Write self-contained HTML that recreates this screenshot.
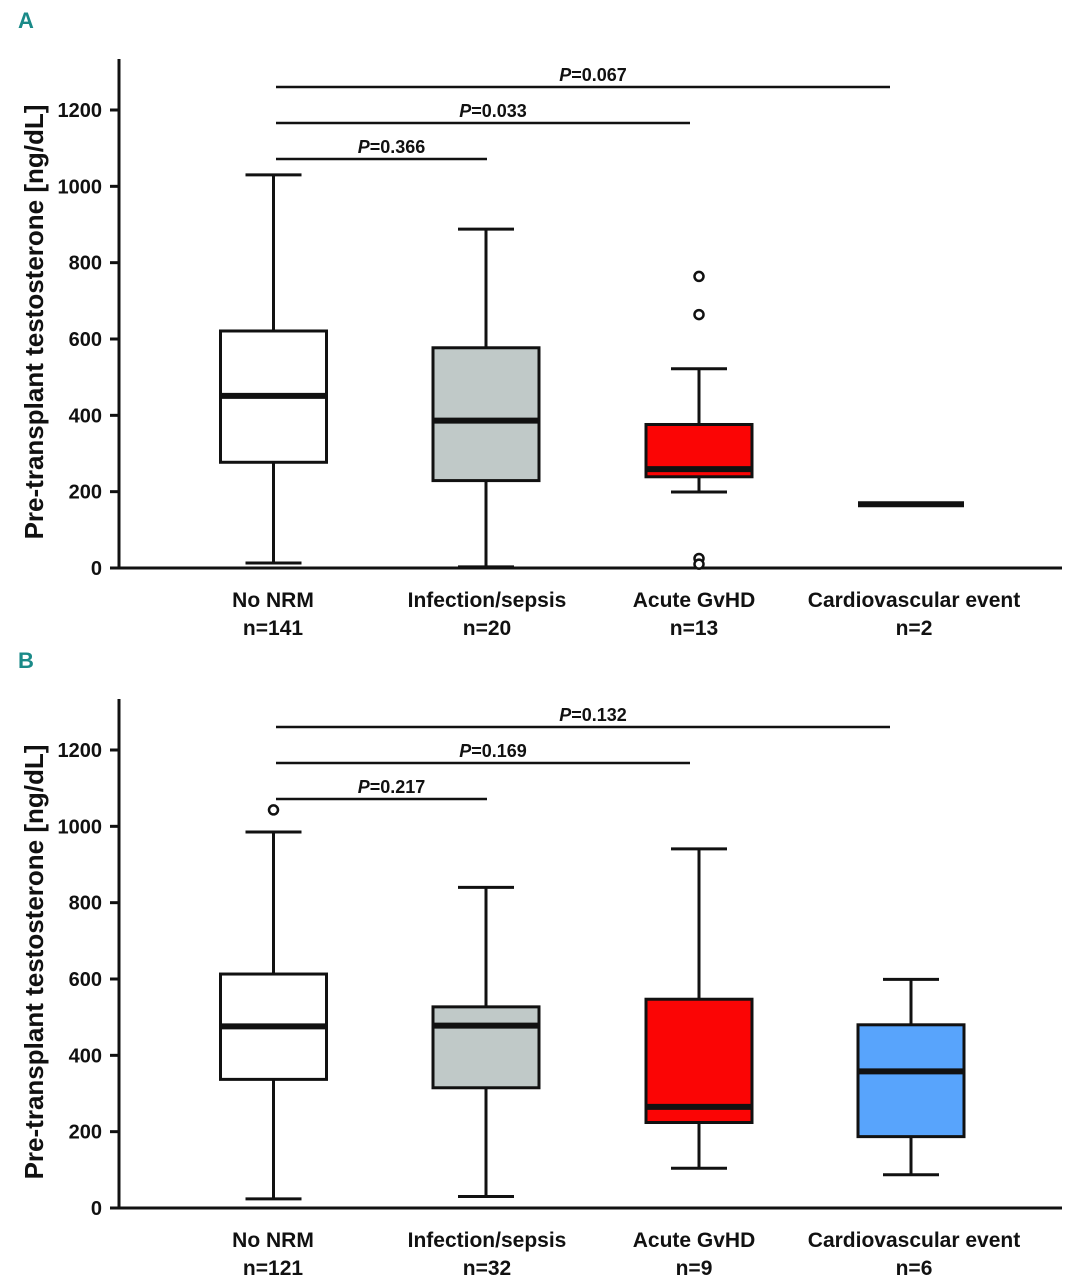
<!DOCTYPE html>
<html><head><meta charset="utf-8"><style>
html,body{margin:0;padding:0;background:#fff;}
svg{display:block;font-family:"Liberation Sans",Arial,sans-serif;}
</style></head><body>
<svg id="chart" width="1074" height="1280" viewBox="0 0 1074 1280" xmlns="http://www.w3.org/2000/svg"></svg>
<script>
const categories = ["No NRM","Infection/sepsis","Acute GvHD","Cardiovascular event"];
const nA = ["n=141","n=20","n=13","n=2"];
const nB = ["n=121","n=32","n=9","n=6"];
const fills = ["#ffffff","#c0c9c8","#fb0505","#58a4fc"];
const yTicks = [0,200,400,600,800,1000,1200];
// [whiskerLow, Q1, median, Q3, whiskerHigh]
const boxesA = [[13,277,451,621,1030],[3,229,386,577,888],[199,239,259,376,522],[167,167,167,167,167]];
const outliersA = [[],[],[764,664,25,10],[]];
const boxesB = [[24,337,476,613,985],[30,315,478,527,840],[104,224,265,547,941],[87,187,358,480,599]];
const outliersB = [[1043],[],[],[]];
const pTargetsA = [1,2,3]; const pValuesA = ["0.366","0.033","0.067"];
const pTargetsB = [1,2,3]; const pValuesB = ["0.217","0.169","0.132"];

const svg = document.getElementById('chart');
const NS = 'http://www.w3.org/2000/svg';
function mk(tag, attrs, parent){ const e=document.createElementNS(NS,tag); for(const k in attrs) e.setAttribute(k,attrs[k]); (parent||svg).appendChild(e); return e; }
const xCenters = [273.5,486,699,911];
const labelCenters = [273,487,694,914];
const barEndOffsets = [0,1,-9,-21];

function panel(letter, y0, boxes, outs, ns, pT, pV, nameP){
  const yScale = v => y0 - v*(458/1200);
  const xScale = i => xCenters[i];
  const g = mk('g',{});
  
  
  const L = mk('text',{x:18,y:y0-540,'font-size':22,'font-weight':'bold',fill:'#1a8a88','font-family':'"Liberation Sans Narrow","Liberation Sans",sans-serif'},g);
  L.textContent = letter;
  
  
  const yax = mk('line',{x1:119,y1:y0-509,x2:119,y2:y0+1,stroke:'#111','stroke-width':3},g);
  
  
  const xax = mk('line',{x1:110,y1:y0,x2:1062,y2:y0,stroke:'#111','stroke-width':3},g);
  
  
  yTicks.forEach(t=>{
    const y=yScale(t);
    const tk = mk('line',{x1:110,y1:y,x2:119,y2:y,stroke:'#111','stroke-width':3},g);
    
    
    const tl = mk('text',{x:102,y:y+7,'font-size':20,'font-weight':'bold','text-anchor':'end',fill:'#111'},g);
    tl.textContent = t;
    
    
  });
  const yt = mk('text',{x:0,y:0,'font-size':26,'font-weight':'bold','text-anchor':'middle',fill:'#111',transform:`translate(43,${y0-246}) rotate(-90)`},g);
  yt.textContent = 'Pre-transplant testosterone [ng/dL]';
  
  
  boxes.forEach((b,i)=>{
    const cx = xScale(i);
    const bg = mk('g',{},g);
    
    
    const [lo,q1,med,q3,hi] = b;
    if(q3>q1){
      mk('line',{x1:cx,y1:yScale(hi),x2:cx,y2:yScale(q3),stroke:'#111','stroke-width':3},bg);
      mk('line',{x1:cx,y1:yScale(q1),x2:cx,y2:yScale(lo),stroke:'#111','stroke-width':3},bg);
      mk('line',{x1:cx-28,y1:yScale(hi),x2:cx+28,y2:yScale(hi),stroke:'#111','stroke-width':3},bg);
      mk('line',{x1:cx-28,y1:yScale(lo),x2:cx+28,y2:yScale(lo),stroke:'#111','stroke-width':3},bg);
      mk('rect',{x:cx-53,y:yScale(q3),width:106,height:yScale(q1)-yScale(q3),fill:fills[i],stroke:'#111','stroke-width':3},bg);
    }
    mk('line',{x1:cx-53,y1:yScale(med),x2:cx+53,y2:yScale(med),stroke:'#111','stroke-width':6},bg);
    outs[i].forEach(o=>{
      const c = mk('circle',{cx:cx,cy:yScale(o),r:4.5,fill:'#fff',stroke:'#111','stroke-width':2.5},bg);
      
      
    });
    const cl = mk('text',{x:labelCenters[i],y:y0+39,'font-size':21,'font-weight':'bold','text-anchor':'middle',fill:'#111'},g);
    cl.textContent = categories[i];
    
    
    const nl = mk('text',{x:labelCenters[i],y:y0+67,'font-size':21,'font-weight':'bold','text-anchor':'middle',fill:'#111'},g);
    nl.textContent = ns[i];
    
    
  });
  pT.forEach((t,k)=>{
    const y = y0 - 409 - k*36;
    const x2 = xScale(t)+barEndOffsets[t];
    const br = mk('line',{x1:276,y1:y,x2:x2,y2:y,stroke:'#111','stroke-width':2.5},g);
    
    
    const pt = mk('text',{x:(276+x2)/2+10,y:y-6,'font-size':18,'font-weight':'bold','text-anchor':'middle',fill:'#111'},g);
    pt.innerHTML = '<tspan font-style="italic">P</tspan>=' + pV[k];
    
    
  });
}
panel('A', 568, boxesA, outliersA, nA, pTargetsA, pValuesA, 'a');
panel('B', 1208, boxesB, outliersB, nB, pTargetsB, pValuesB, 'b');
</script>
</body></html>
